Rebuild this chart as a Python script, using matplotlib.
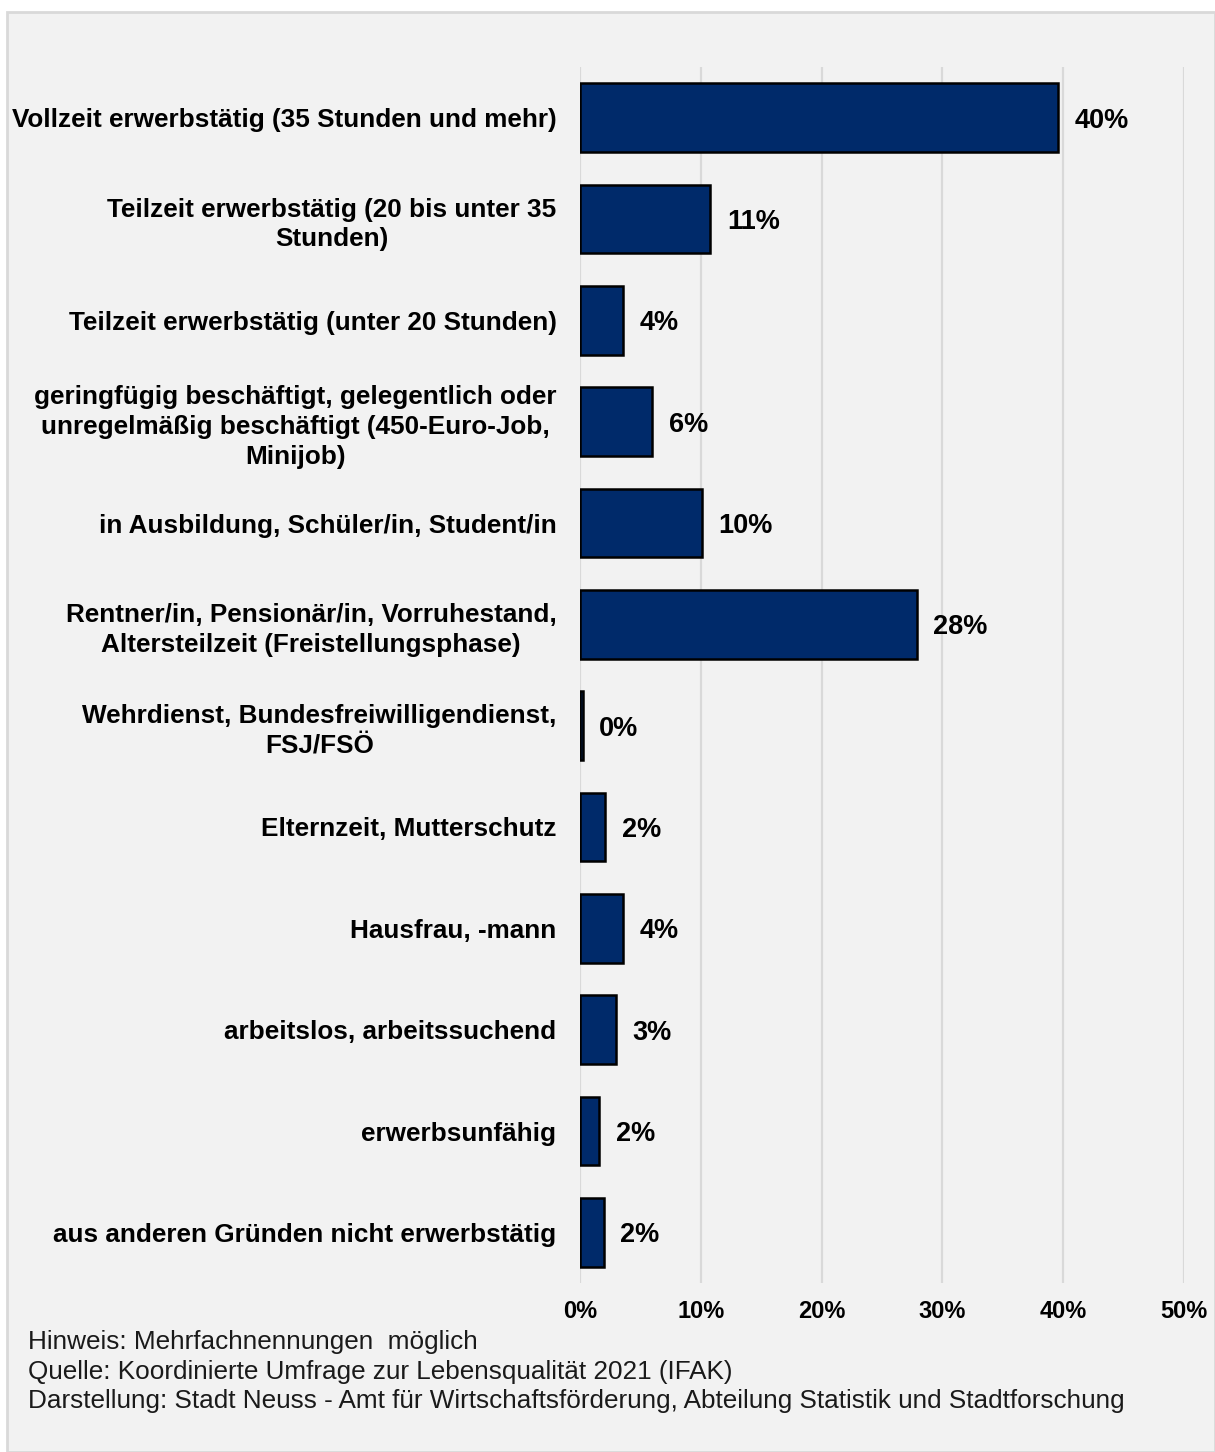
import matplotlib.pyplot as plt
from matplotlib.patches import Rectangle

plt.rcParams['font.family'] = ['Liberation Sans', 'DejaVu Sans']

categories = [
    "Vollzeit erwerbstätig (35 Stunden und mehr)",
    "Teilzeit erwerbstätig (20 bis unter 35\nStunden)",
    "Teilzeit erwerbstätig (unter 20 Stunden)",
    "geringfügig beschäftigt, gelegentlich oder\nunregelmäßig beschäftigt (450-Euro-Job,\nMinijob)",
    "in Ausbildung, Schüler/in, Student/in",
    "Rentner/in, Pensionär/in, Vorruhestand,\nAltersteilzeit (Freistellungsphase)",
    "Wehrdienst, Bundesfreiwilligendienst,\nFSJ/FSÖ",
    "Elternzeit, Mutterschutz",
    "Hausfrau, -mann",
    "arbeitslos, arbeitssuchend",
    "erwerbsunfähig",
    "aus anderen Gründen nicht erwerbstätig",
]
values = [39.6, 10.8, 3.6, 6.0, 10.1, 27.9, 0.25, 2.1, 3.6, 3.0, 1.6, 2.0]
xticks = [0, 10, 20, 30, 40, 50]
notes = [
    "Hinweis: Mehrfachnennungen  möglich",
    "Quelle: Koordinierte Umfrage zur Lebensqualität 2021 (IFAK)",
    "Darstellung: Stadt Neuss - Amt für Wirtschaftsförderung, Abteilung Statistik und Stadtforschung",
]

navy = "#002A6A"
bg = "#F2F2F2"

fig = plt.figure(figsize=(12.15, 14.52), dpi=100)
fig.patch.set_facecolor("white")
# panel with light border, kept behind the axes
fig.patches.append(Rectangle((7 / 1215, 0), 1 - 7 / 1215, 1 - 12 / 1452,
                             transform=fig.transFigure, facecolor=bg,
                             edgecolor="#D9D9D9", linewidth=2, zorder=-10))

ax = fig.add_axes([580 / 1215, 1 - 1283 / 1452, (1184 - 580) / 1215, (1283 - 67) / 1452])
ax.set_facecolor("none")

y = list(range(len(categories)))
ax.barh(y, values, height=0.68, color=navy, edgecolor="black", linewidth=1.8, zorder=3)
for yi, v in zip(y, values):
    ax.text(v + 1.35, yi + 0.03, f"{round(v):.0f}%", va="center", ha="left",
            fontsize=19.5, fontweight="bold", color="black")

ax.set_xlim(0, 50)
ax.set_ylim(len(categories) - 0.5, -0.5)
ax.set_xticks(xticks)
ax.set_xticklabels([f"{t}%" for t in xticks], fontsize=17, fontweight="bold")
ax.set_yticks(y)
ax.set_yticklabels(categories, fontsize=18.8, fontweight="bold", linespacing=1.3)
for lbl in ax.get_yticklabels():
    lbl.set_multialignment("center")
ax.tick_params(axis="both", length=0)
ax.tick_params(axis="y", pad=17)
ax.tick_params(axis="x", pad=12)
ax.grid(axis="x", color="#D9D9D9", linewidth=1.6, zorder=0)
for s in ax.spines.values():
    s.set_visible(False)

for i, line in enumerate(notes):
    fig.text(28 / 1215, 1 - (1342 + i * 29.5) / 1452, line, fontsize=18.8,
             va="center", ha="left", color="#1a1a1a")

fig.savefig("out.png", dpi=100, facecolor=fig.get_facecolor())
